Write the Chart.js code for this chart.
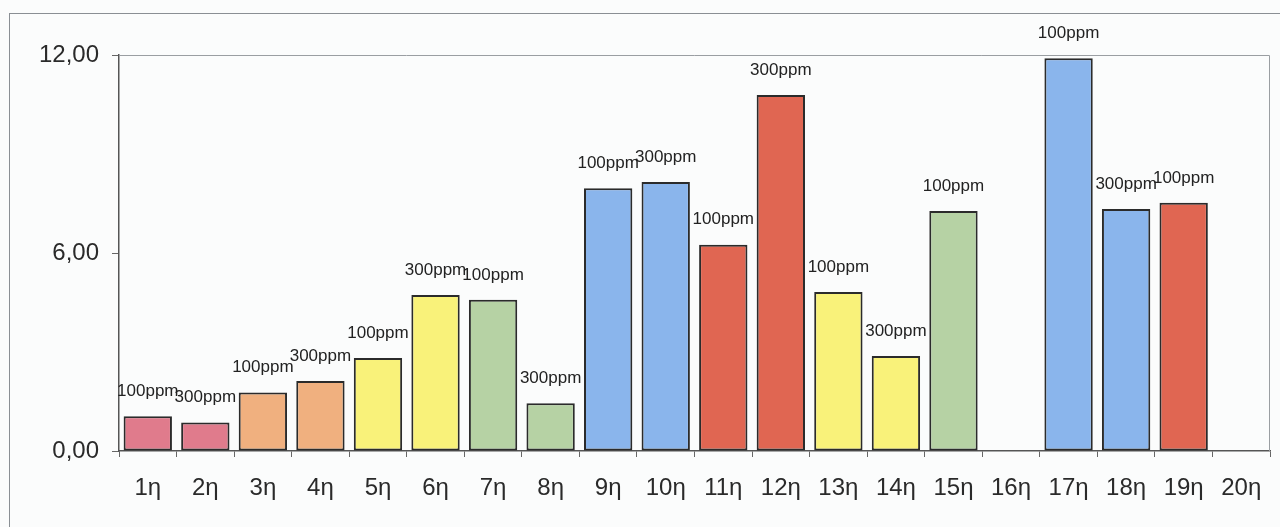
<!DOCTYPE html>
<html>
<head>
<meta charset="utf-8">
<script src="https://cdn.jsdelivr.net/npm/chart.js@4.4.1/dist/chart.umd.min.js"></script>
<style>
    html, body { margin: 0; padding: 0; background: #fbfcfc; overflow: hidden; }
    #wrap { position: relative; width: 1280px; height: 527px; }
    #frame { position: absolute; left: 9px; top: 13px; width: 1400px; height: 600px; border: 1px solid #8a8f94; }
    #c { position: absolute; left: 0; top: 0; }
</style>
</head>
<body>
<div id="wrap">
    <div id="frame"></div>
    <canvas id="c" width="1280" height="527"></canvas>
</div>
<script>
// categories and values
const categories = ['1η','2η','3η','4η','5η','6η','7η','8η','9η','10η',
                    '11η','12η','13η','14η','15η','16η','17η','18η','19η','20η'];
const values = [1.05, 0.86, 1.77, 2.12, 2.82, 4.73, 4.58, 1.45, 7.96, 8.15,
                6.25, 10.79, 4.82, 2.88, 7.27, null, 11.90, 7.33, 7.52, null];
const doseLabels = ['100ppm','300ppm','100ppm','300ppm','100ppm','300ppm','100ppm','300ppm','100ppm','300ppm',
                    '100ppm','300ppm','100ppm','300ppm','100ppm','','100ppm','300ppm','100ppm',''];
const barColors = ['#e07b8c','#e07b8c','#f0b07f','#f0b07f','#f9f27a','#f9f27a','#b6d2a4','#b6d2a4','#8ab5ec','#8ab5ec',
                   '#e06652','#e06652','#f9f27a','#f9f27a','#b6d2a4','#b6d2a4','#8ab5ec','#8ab5ec','#e06652','#e06652'];
const yTicks = [0, 6, 12];

const FONT = '"Liberation Sans", Arial, sans-serif';

// value labels above bars
const doseLabelPlugin = {
    id: 'doseLabels',
    afterDatasetsDraw(chart) {
        const ctx = chart.ctx;
        const meta = chart.getDatasetMeta(0);
        ctx.save();
        ctx.font = '17px ' + FONT;
        ctx.fillStyle = '#222';
        ctx.textAlign = 'center';
        ctx.textBaseline = 'middle';
        meta.data.forEach((bar, i) => {
            if (values[i] === null || !doseLabels[i]) return;
            ctx.fillText(doseLabels[i], bar.x, bar.y - 25);
        });
        ctx.restore();
    }
};

// thin box round the plot area (top and right)
const plotBoxPlugin = {
    id: 'plotBox',
    beforeDatasetsDraw(chart) {
        const a = chart.chartArea;
        const ctx = chart.ctx;
        ctx.save();
        ctx.strokeStyle = '#9a9ea2';
        ctx.lineWidth = 1;
        ctx.beginPath();
        ctx.moveTo(a.left, a.top + 0.5);
        ctx.lineTo(a.right - 0.5, a.top + 0.5);
        ctx.lineTo(a.right - 0.5, a.bottom);
        ctx.stroke();
        ctx.restore();
    }
};

new Chart(document.getElementById('c'), {
    type: 'bar',
    data: {
        labels: categories,
        datasets: [{
            data: values,
            backgroundColor: barColors,
            borderColor: '#2b2b2b',
            borderWidth: 2,
            borderSkipped: false,
            categoryPercentage: 1.0,
            barPercentage: 0.84
        }]
    },
    options: {
        responsive: false,
        animation: false,
        layout: { padding: { left: 0, top: 55, right: 10, bottom: 0 } },
        plugins: {
            legend: { display: false },
            tooltip: { enabled: false }
        },
        scales: {
            x: {
                grid: {
                    offset: true,
                    drawOnChartArea: false,
                    tickLength: 6,
                    color: '#666'
                },
                border: { color: '#555', width: 1.5 },
                ticks: {
                    color: '#2a2a2a',
                    font: { family: FONT, size: 24 },
                    padding: 17,
                    maxRotation: 0,
                    autoSkip: false
                },
                afterFit(scale) { scale.height = 76; }
            },
            y: {
                min: 0,
                max: 12,
                afterBuildTicks(scale) { scale.ticks = yTicks.map(v => ({ value: v })); },
                grid: {
                    drawOnChartArea: false,
                    tickLength: 7,
                    color: '#666'
                },
                border: { color: '#555', width: 1.5 },
                ticks: {
                    color: '#2a2a2a',
                    font: { family: FONT, size: 24 },
                    padding: 13,
                    callback: v => v.toFixed(2).replace('.', ',')
                },
                afterFit(scale) { scale.width = 119; }
            }
        }
    },
    plugins: [plotBoxPlugin, doseLabelPlugin]
});
</script>
</body>
</html>
